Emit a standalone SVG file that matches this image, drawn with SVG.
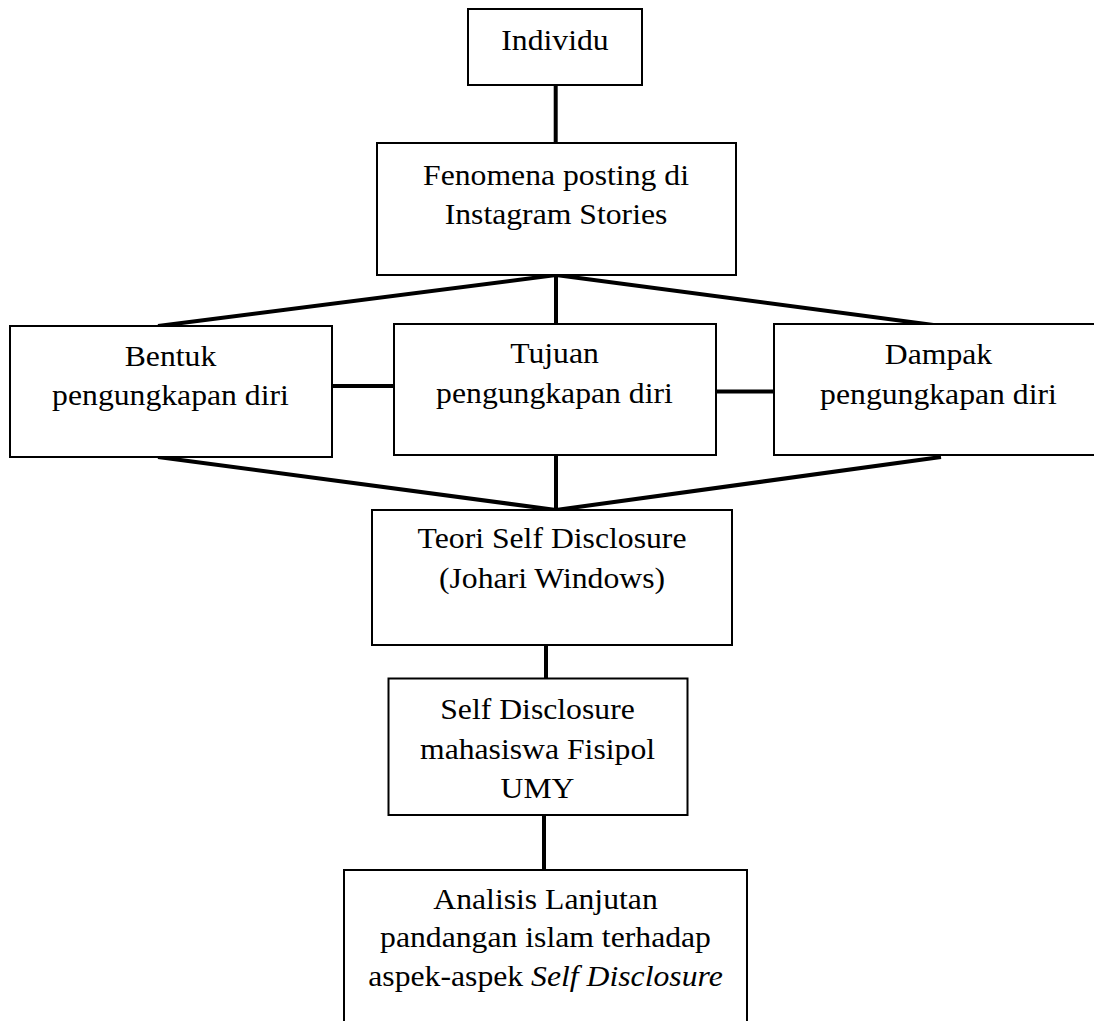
<svg xmlns="http://www.w3.org/2000/svg" width="1094" height="1021" viewBox="0 0 1094 1021">
<style>
.box{fill:#fff;stroke:#000;stroke-width:2}
.lbl{font-family:"Liberation Serif","Times New Roman",serif;font-size:29.5px;fill:#000;text-anchor:middle}
.con{stroke:#000;stroke-width:4;fill:none;stroke-linecap:butt}
</style>
<rect width="1094" height="1021" fill="#fff"/>
<g id="connectors">
<line class="con" x1="555.7" y1="85" x2="555.7" y2="143"/>
<line class="con" x1="556" y1="275" x2="158" y2="326"/>
<line class="con" x1="556" y1="275" x2="556" y2="324"/>
<line class="con" x1="556" y1="275" x2="941" y2="326"/>
<line class="con" x1="332" y1="386" x2="394" y2="386"/>
<line class="con" x1="716" y1="391.5" x2="774" y2="391.5"/>
<line class="con" x1="158" y1="457" x2="556" y2="510"/>
<line class="con" x1="556" y1="455" x2="556" y2="510"/>
<line class="con" x1="941" y1="457" x2="556" y2="510"/>
<line class="con" x1="546" y1="645" x2="546" y2="699"/>
<line class="con" x1="544" y1="815" x2="544" y2="870"/>
</g>
<g id="individu">
<rect class="box" x="468" y="9" width="174" height="76"/>
<text class="lbl" transform="translate(555 0) scale(1.075 1)" y="50">Individu</text>
</g>
<g id="fenomena">
<rect class="box" x="377" y="143" width="359" height="132"/>
<text class="lbl" transform="translate(556 0) scale(1.075 1)" y="185">Fenomena posting di</text>
<text class="lbl" transform="translate(556 0) scale(1.075 1)" y="224">Instagram Stories</text>
</g>
<g id="bentuk">
<rect class="box" x="10" y="326" width="322" height="131"/>
<text class="lbl" transform="translate(170.5 0) scale(1.075 1)" y="366">Bentuk</text>
<text class="lbl" transform="translate(170.5 0) scale(1.075 1)" y="405.5">pengungkapan diri</text>
</g>
<g id="tujuan">
<rect class="box" x="394" y="324" width="322" height="131"/>
<text class="lbl" transform="translate(554.5 0) scale(1.075 1)" y="363.5">Tujuan</text>
<text class="lbl" transform="translate(554.5 0) scale(1.075 1)" y="403">pengungkapan diri</text>
</g>
<g id="dampak">
<rect class="box" x="774" y="324" width="330" height="131"/>
<text class="lbl" transform="translate(938.5 0) scale(1.075 1)" y="364">Dampak</text>
<text class="lbl" transform="translate(938.5 0) scale(1.075 1)" y="404">pengungkapan diri</text>
</g>
<g id="teori">
<rect class="box" x="372" y="510" width="360" height="135"/>
<text class="lbl" transform="translate(552 0) scale(1.075 1)" y="548.5">Teori Self Disclosure</text>
<text class="lbl" transform="translate(552 0) scale(1.075 1)" y="588.5">(Johari Windows)</text>
</g>
<g id="self-disclosure">
<rect class="box" x="388.5" y="678.5" width="299" height="136.5"/>
<text class="lbl" transform="translate(537.5 0) scale(1.075 1)" y="719">Self Disclosure</text>
<text class="lbl" transform="translate(537.5 0) scale(1.075 1)" y="759">mahasiswa Fisipol</text>
<text class="lbl" transform="translate(537.5 0) scale(1.075 1)" y="798">UMY</text>
</g>
<g id="analisis">
<path class="box" d="M344 1030 V870 H747 V1030"/>
<text class="lbl" transform="translate(545.5 0) scale(1.075 1)" y="909.5">Analisis Lanjutan</text>
<text class="lbl" transform="translate(545.5 0) scale(1.075 1)" y="947">pandangan islam terhadap</text>
<text class="lbl" transform="translate(545.5 0) scale(1.075 1)" y="986.5">aspek-aspek <tspan font-style="italic">Self Disclosure</tspan></text>
</g>
</svg>
